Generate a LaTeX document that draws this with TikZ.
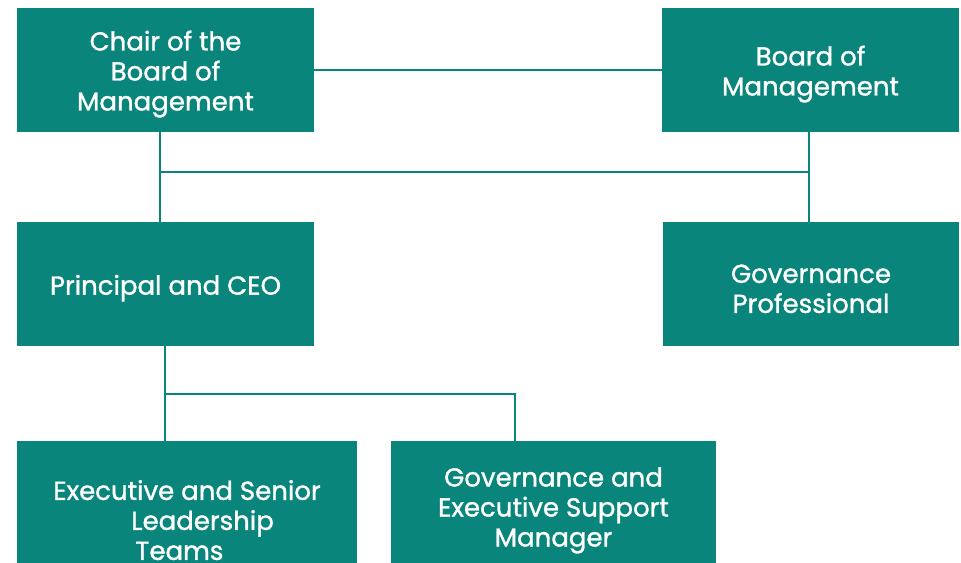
\documentclass[tikz,border=0pt]{standalone}
\usepackage{fontspec}
\setmainfont{Poppins}
\newfontfamily\unitfont{Poppins}[FakeBold=1.2]
\usetikzlibrary{positioning}
\definecolor{T1}{RGB}{9,133,123}
% taller first line, pushes the text a little lower in its box
\newcommand{\capstrut}{\rule{0pt}{21pt}}

\begin{document}
\begin{tikzpicture}[x=0.75pt,y=-0.75pt,
    unit/.style={fill=T1, text=white, align=center, inner sep=0pt,
                 font=\unitfont\fontsize{19.5}{22.5}\selectfont},
    link/.style={draw=T1, line width=1.6pt}]
      \useasboundingbox (0,0) rectangle (961,562);
      \clip (0,0) rectangle (961,562);
      % top row
      \node[unit, minimum width=222.75pt, minimum height=93pt] (chair) at (165.5,70) {\capstrut Chair of the\\Board of\\Management};
      \node[unit, minimum width=222.75pt, minimum height=93pt] (board) at (810.5,70) {\capstrut Board of\\Management};
      % middle row
      \node[unit, minimum width=222.75pt, minimum height=93pt] (ceo) at (165.5,284) {\capstrut Principal and CEO};
      \node[unit, minimum width=222pt, minimum height=93pt] (govpro) at (811,284) {\capstrut Governance\\Professional};
      % bottom row, runs off the page
      \node[unit, minimum width=255pt, minimum height=112.5pt, align=left] (slt) at (187,516) {\capstrut Executive and Senior\\\hspace*{58.5pt}Leadership\\\hspace*{61.5pt}Teams};
      \node[unit, minimum width=243.75pt, minimum height=97.5pt] (gesm) at (553.5,506) {\capstrut Governance and\\Executive Support\\Manager};
      % connectors
      \coordinate (j1) at (160,172);
      \coordinate (j2) at (809,172);
      \coordinate (j3) at (165,394);
      \coordinate (j4) at (515,394);
      \draw[link] (chair.east) -- (board.west);
      \draw[link] (chair.south -| j1) -- (ceo.north -| j1);
      \draw[link] (board.south -| j2) -- (govpro.north -| j2);
      \draw[link] (j1) -- (j2);
      \draw[link] (ceo.south -| j3) -- (slt.north -| j3);
      \draw[link] (j3) -- (j4) -- (gesm.north -| j4);
\end{tikzpicture}
\end{document}
